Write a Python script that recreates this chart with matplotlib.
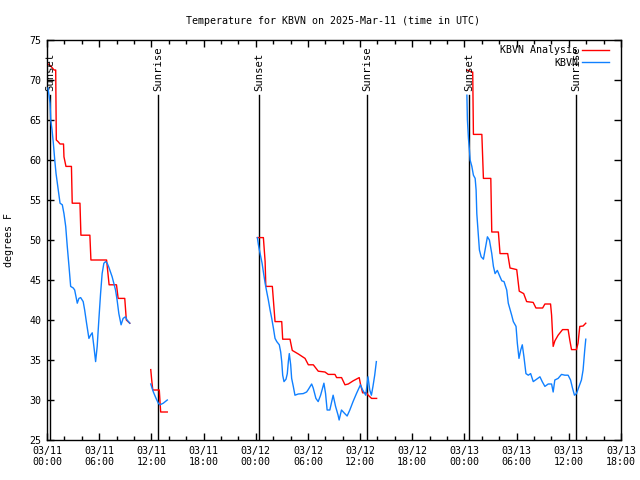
import matplotlib
matplotlib.use('Agg')
import matplotlib.pyplot as plt

# time = hours since 03/11 00:00 UTC, temperature in degrees F
# each series is split into the segments that appear on the chart
analysis_t = [
    [0.12, 0.43, 0.81, 1.0, 1.07, 1.27, 1.5, 1.9, 1.95, 2.18, 2.81, 2.9, 3.79, 3.9,
     4.93, 5.05, 6.85, 7.14, 7.99, 8.18, 8.94, 9.12, 9.52],
    [11.93, 12.04, 12.16, 12.91, 13.07, 13.83],
    [24.19, 24.88, 25.08, 25.16, 25.91, 26.22, 26.99, 27.1, 27.94, 28.2, 28.9, 29.67,
     30.05, 30.62, 31.19, 31.96, 32.34, 33.11, 33.3, 33.87, 34.26, 34.64, 35.21, 35.9,
     36.06, 36.29, 36.75, 36.93, 37.32, 37.9],
    [48.28, 48.85, 48.95, 49.03, 50.0, 50.18, 51.03, 51.14, 51.9, 52.09, 52.97, 53.24,
     54.01, 54.3, 54.81, 55.15, 55.9, 56.22, 56.99, 57.25, 57.9, 58.02, 58.2, 58.4,
     58.77, 59.28, 59.92, 60.11, 60.31, 60.88, 61.06, 61.26, 61.64, 61.95],
]
analysis_f = [
    [72.0, 71.75, 71.25, 71.25, 62.5, 62.3, 62.0, 62.0, 60.4, 59.2, 59.2, 54.6, 54.6, 50.6,
     50.6, 47.5, 47.5, 44.4, 44.4, 42.7, 42.7, 40.0, 39.6],
    [33.8, 32.5, 31.25, 31.25, 28.5, 28.5],
    [50.3, 50.3, 47.3, 44.2, 44.2, 39.8, 39.8, 37.6, 37.6, 36.2, 35.75, 35.2,
     34.4, 34.4, 33.6, 33.5, 33.2, 33.2, 32.8, 32.8, 31.9, 32.0, 32.4, 32.8,
     31.9, 30.9, 30.9, 30.6, 30.2, 30.2],
    [71.25, 71.0, 71.0, 63.2, 63.2, 57.7, 57.7, 51.0, 51.0, 48.3, 48.3, 46.5,
     46.3, 43.6, 43.3, 42.3, 42.2, 41.5, 41.5, 42.0, 42.0, 40.6, 36.7, 37.4,
     38.1, 38.8, 38.8, 37.5, 36.3, 36.3, 37.1, 39.2, 39.25, 39.6],
]

obs_t = [
    [0.12, 0.35, 0.43, 0.58, 0.73, 0.89, 1.04, 1.35, 1.5, 1.76, 1.95, 2.15, 2.33, 2.53,
     2.72, 3.02, 3.18, 3.41, 3.48, 3.67, 3.87, 4.16, 4.33, 4.55, 4.82, 5.01, 5.2, 5.39,
     5.59, 5.77, 5.96, 6.16, 6.34, 6.54, 6.73, 6.92, 7.11, 7.3, 7.49, 7.68, 7.88, 8.06,
     8.26, 8.52, 8.75, 9.02, 9.21, 9.52],
    [11.93, 12.23, 12.54, 12.8, 12.99, 13.37, 13.83],
    [24.19, 24.31, 24.42, 24.58, 24.73, 24.88, 25.08, 25.27, 25.45, 25.65, 25.84, 26.03,
     26.22, 26.42, 26.71, 26.87, 26.99, 27.1, 27.25, 27.48, 27.63, 27.75, 27.86, 28.02,
     28.13, 28.32, 28.51, 28.89, 29.46, 29.85, 30.04, 30.43, 30.61, 30.92, 31.18, 31.46,
     31.84, 32.03, 32.21, 32.52, 32.9, 33.18, 33.47, 33.59, 33.86, 34.24, 34.51, 34.82,
     35.19, 35.58, 36.04, 36.27, 36.65, 36.91, 37.11, 37.3, 37.48, 37.68, 37.87],
    [48.28, 48.34, 48.46, 48.57, 48.65, 48.85, 49.03, 49.23, 49.34, 49.42, 49.61, 49.72,
     49.92, 50.18, 50.37, 50.64, 50.87, 51.14, 51.33, 51.52, 51.78, 52.01, 52.29, 52.55,
     52.86, 53.04, 53.43, 53.62, 53.93, 54.08, 54.27, 54.47, 54.65, 54.84, 55.07, 55.34,
     55.61, 55.91, 56.3, 56.68, 56.94, 57.25, 57.63, 58.02, 58.2, 58.39, 58.77, 59.16,
     59.54, 59.92, 60.2, 60.42, 60.65, 60.88, 61.18, 61.45, 61.64, 61.83, 61.95],
]
obs_f = [
    [69.0, 67.1, 65.0, 63.75, 62.1, 60.0, 58.3, 55.8, 54.6, 54.4, 53.3, 51.7, 49.2, 46.7,
     44.2, 44.0, 43.75, 42.5, 42.1, 42.7, 42.8, 42.3, 41.25, 39.6, 37.7, 38.1, 38.4, 36.7,
     34.8, 36.7, 40.0, 43.3, 45.8, 47.1, 47.3, 47.1, 46.6, 46.0, 45.4, 44.6, 43.75, 42.5,
     40.8, 39.4, 40.2, 40.4, 40.0, 39.6],
    [32.0, 31.0, 30.2, 29.6, 29.4, 29.6, 30.0],
    [50.3, 49.4, 48.75, 47.9, 47.1, 46.0, 44.6, 43.5, 42.5, 41.25, 40.2, 39.0,
     37.7, 37.3, 36.9, 36.0, 34.8, 33.1, 32.3, 32.6, 33.3, 34.8, 35.8, 34.4,
     32.7, 31.7, 30.6, 30.75, 30.8, 31.0, 31.3, 32.0, 31.5, 30.2, 29.8, 30.6,
     32.1, 30.8, 28.75, 28.75, 30.6, 29.2, 28.1, 27.5, 28.75, 28.3, 28.0, 28.75,
     29.8, 30.8, 31.9, 31.3, 30.6, 32.9, 31.25, 30.6, 31.7, 33.1, 34.8],
    [68.1, 65.0, 62.7, 61.25, 60.0, 59.2, 58.1, 57.7, 56.25, 53.3, 50.4, 48.75,
     47.9, 47.6, 48.75, 50.4, 50.0, 48.3, 46.7, 45.8, 46.2, 45.6, 44.9, 44.8,
     43.75, 42.1, 40.6, 39.8, 39.2, 37.1, 35.2, 36.25, 36.9, 35.4, 33.3, 33.1,
     33.3, 32.3, 32.6, 32.9, 32.3, 31.7, 32.0, 32.0, 31.0, 32.5, 32.7, 33.2,
     33.1, 33.1, 32.5, 31.5, 30.6, 30.8, 31.7, 32.5, 33.75, 36.25, 37.6],
]

sun_times = [0.34, 12.8, 24.41, 36.83, 48.56, 60.86]
sun_labels = ['Sunset', 'Sunrise', 'Sunset', 'Sunrise', 'Sunset', 'Sunrise']

xtick_hours = [0, 6, 12, 18, 24, 30, 36, 42, 48, 54, 60, 66]
xtick_labels = ['03/11\n00:00', '03/11\n06:00', '03/11\n12:00', '03/11\n18:00',
                '03/12\n00:00', '03/12\n06:00', '03/12\n12:00', '03/12\n18:00',
                '03/13\n00:00', '03/13\n06:00', '03/13\n12:00', '03/13\n18:00']

plt.rcParams['font.family'] = ['DejaVu Sans Mono']
plt.rcParams['font.size'] = 7.2

fig = plt.figure(figsize=(6.4, 4.8), dpi=100)
ax = fig.add_axes([47 / 640, 40 / 480, 574 / 640, 400 / 480])

# sunrise / sunset markers
for t, lab in zip(sun_times, sun_labels):
    ax.plot([t, t], [25, 68.1], color='black', lw=1.0, zorder=1)
    ax.text(t, 68.6, lab, rotation=90, ha='center', va='bottom', fontsize=7.6)

for i in range(len(analysis_t)):
    ax.plot(analysis_t[i], analysis_f[i], color='#ff0000', lw=1.0, zorder=2,
            label='KBVN Analysis' if i == 0 else None)
for i in range(len(obs_t)):
    ax.plot(obs_t[i], obs_f[i], color='#1080ff', lw=1.0, zorder=3,
            label='KBVN' if i == 0 else None)

ax.set_xlim(0, 66)
ax.set_ylim(25, 75)
ax.set_xticks(xtick_hours)
ax.set_xticklabels(xtick_labels)
ax.set_xticks(range(0, 67, 2), minor=True)
ax.set_yticks(range(25, 76, 5))
ax.tick_params(axis='both', which='major', direction='in', length=5, width=1,
               top=True, right=True, pad=4)
ax.tick_params(axis='both', which='minor', direction='in', length=3, width=1,
               top=True, right=True)
ax.tick_params(axis='y', which='minor', left=False, right=False)
for s in ax.spines.values():
    s.set_linewidth(1)

ax.set_ylabel('degrees F', labelpad=11)
fig.text(333 / 640, 1 - 21 / 480, 'Temperature for KBVN on 2025-Mar-11 (time in UTC)',
         ha='center', va='center')

ax.legend(loc='upper right', frameon=False, markerfirst=False, handlelength=2.7,
          handletextpad=0.4, labelspacing=0.25, borderaxespad=0.3,
          bbox_to_anchor=(0.9915, 1.005))

fig.savefig('out.png', dpi=100)
